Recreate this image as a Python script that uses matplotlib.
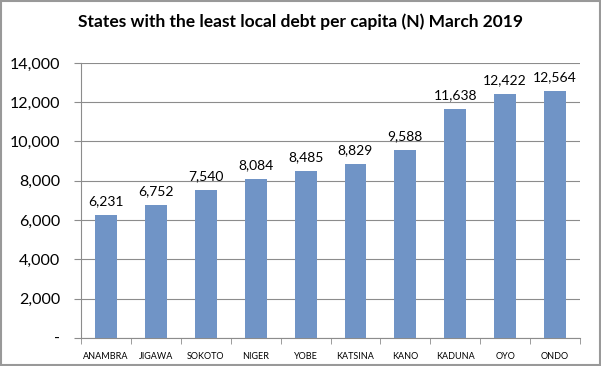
import matplotlib.pyplot as plt
from matplotlib.patches import Rectangle
from matplotlib.ticker import FuncFormatter

# data
states = ["ANAMBRA", "JIGAWA", "SOKOTO", "NIGER", "YOBE",
          "KATSINA", "KANO", "KADUNA", "OYO", "ONDO"]
debt = [6231, 6752, 7540, 8084, 8485, 8829, 9588, 11638, 12422, 12564]
yticks = [0, 2000, 4000, 6000, 8000, 10000, 12000, 14000]

plt.rcParams['font.family'] = ['Lato', 'DejaVu Sans']

fig = plt.figure(figsize=(6.01, 3.66), dpi=100)
ax = fig.add_axes([0.135, 0.077, 0.83, 0.751])

x = range(len(states))
bars = ax.bar(x, debt, width=0.44, color="#7094c6", zorder=3)
for xi, v in zip(x, debt):
    ax.text(xi, v + 400, f"{v:,}", ha="center", va="bottom", fontsize=10)

ax.set_xlim(-0.5, len(states) - 0.5)
ax.set_ylim(0, 14000)
ax.set_yticks(yticks)
ax.yaxis.set_major_formatter(FuncFormatter(lambda v, p: "-" if v == 0 else f"{int(v):,}"))
ax.grid(axis="y", color="#8c8c8c", linewidth=0.8, zorder=0)
ax.set_xticks(x)
ax.set_xticklabels(states, fontsize=6.5)
ax.set_xticks([i - 0.5 for i in range(len(states) + 1)], minor=True)
ax.tick_params(axis="x", which="major", length=0, pad=10)
ax.tick_params(axis="x", which="minor", length=4, color="#8c8c8c")
ax.tick_params(axis="y", length=5, color="#8c8c8c", labelsize=11.5, pad=10)
for side in ["top", "right"]:
    ax.spines[side].set_visible(False)
ax.spines["left"].set_color("#8c8c8c")
ax.spines["bottom"].set_color("#8c8c8c")

fig.text(0.5, 0.94, "States with the least local debt per capita (N) March 2019",
         ha="center", va="center", fontsize=12.5, fontweight="bold")

fig.patches.append(Rectangle((0.002, 0.003), 0.996, 0.994, transform=fig.transFigure,
                             fill=False, edgecolor="#999999", linewidth=1.5))

fig.savefig("out.png", dpi=100)
